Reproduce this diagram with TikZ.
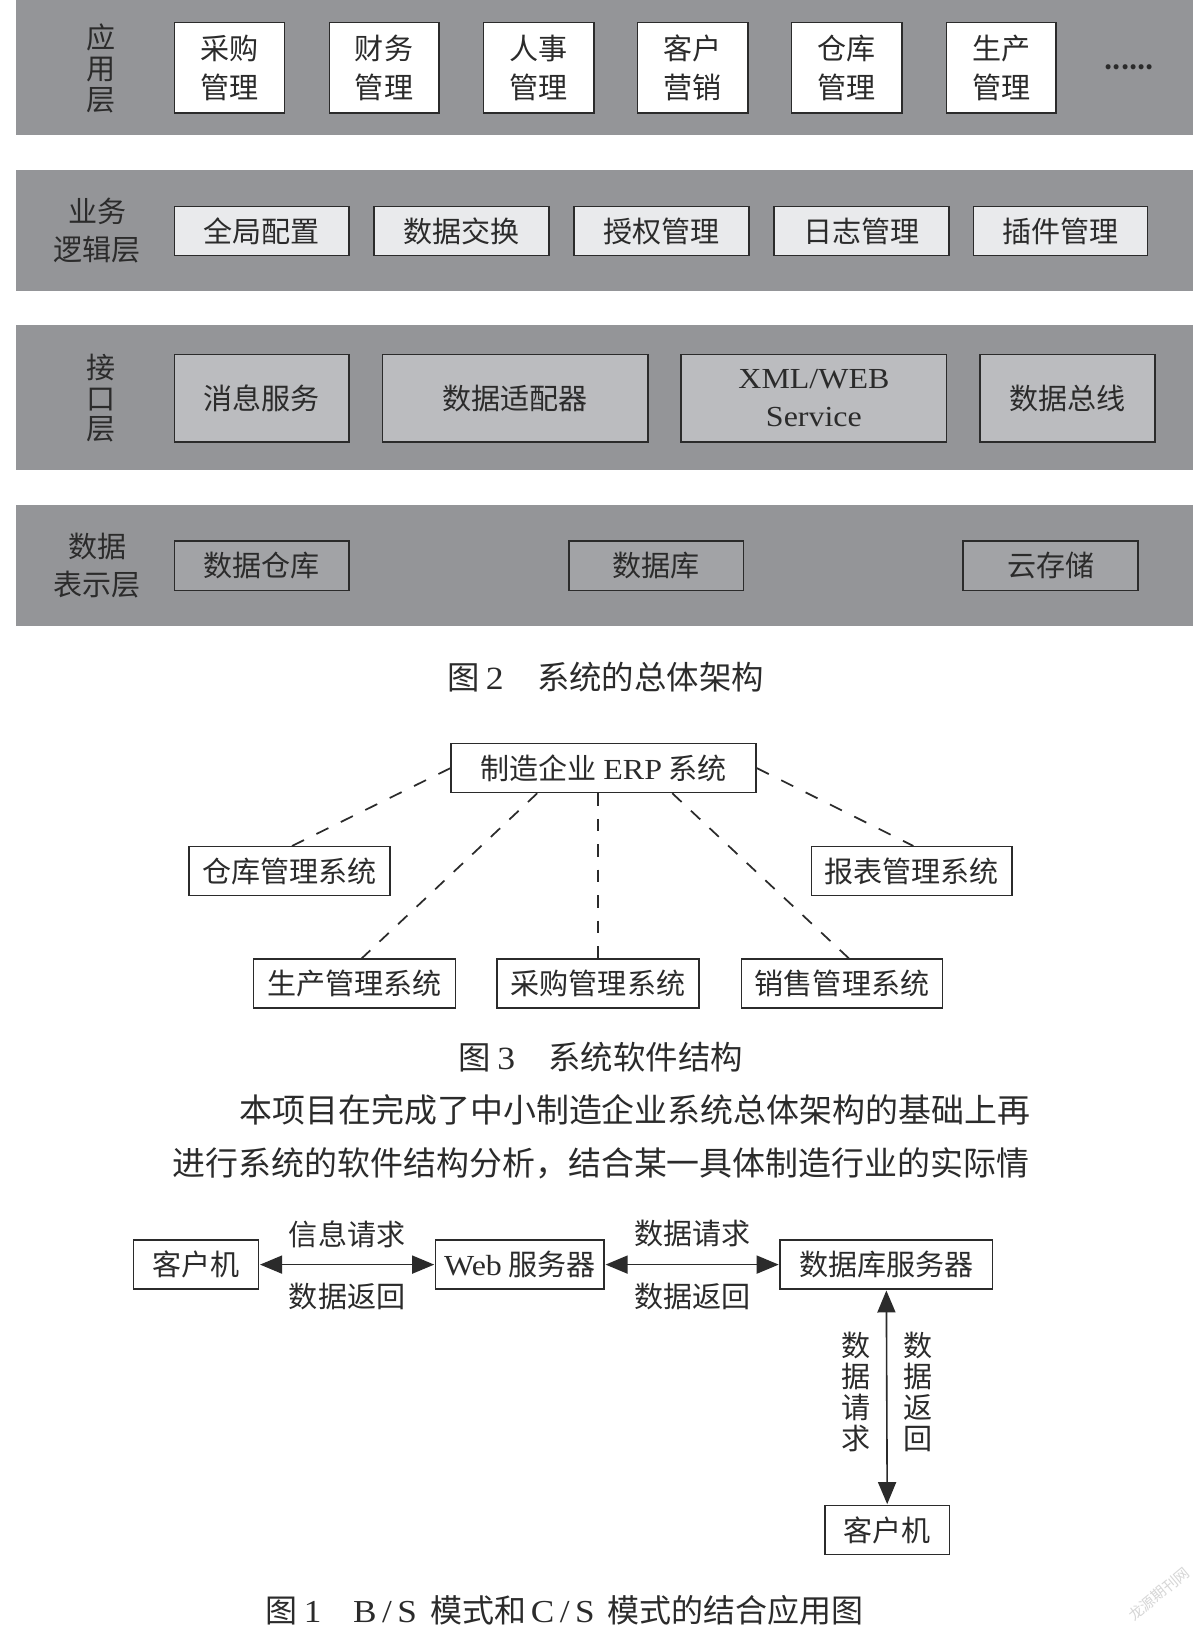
\documentclass[tikz,border=0pt]{standalone}
\usepackage{fontspec}
\setmainfont{Noto Sans CJK SC}
\newfontfamily\lat[FakeStretch=1.1]{Liberation Serif}
\newfontfamily\latw[FakeStretch=1.1,LetterSpace=17]{Liberation Serif}
\usetikzlibrary{arrows.meta,calc}
\definecolor{ink}{HTML}{2B2B2B}
\definecolor{bandgray}{HTML}{949598}
\definecolor{midgray}{HTML}{BBBCBF}
\definecolor{lowgray}{HTML}{A2A3A6}
\definecolor{palegray}{HTML}{E9EAEC}
\tikzset{
  txtst/.style={text=ink,inner sep=0pt,font=\fontsize{21.8}{29}\selectfont,align=center},
  vertst/.style={text=ink,inner sep=0pt,font=\fontsize{21.8}{23.2}\selectfont,align=center},
  capst/.style={text=ink,inner sep=0pt,anchor=west,font=\fontsize{24.3}{28}\selectfont},
  parast/.style={text=ink,inner sep=0pt,font=\fontsize{24.7}{30}\selectfont},
  bandst/.style={fill=bandgray,inner sep=0pt},
  boxw/.style={txtst,draw=ink,line width=1.2pt,fill=white},
  boxl/.style={txtst,draw=ink,line width=1.2pt,fill=palegray},
  boxm/.style={txtst,draw=ink,line width=1.2pt,fill=midgray},
  boxd/.style={txtst,draw=ink,line width=1.2pt,fill=lowgray},
  boxp/.style={txtst,draw=ink,line width=1.1pt,fill=white},
  dashouter/.style={draw=ink,line width=1.3pt,dash pattern=on 10pt off 10.4pt},
  dashinner/.style={draw=ink,line width=1.3pt,dash pattern=on 9.5pt off 9.6pt},
  botharrow/.style={draw=ink,line width=1.2pt,{Triangle[length=16.5pt,width=13.5pt]}-{Triangle[length=16.5pt,width=13.5pt]},shorten <=0.5pt,shorten >=0.5pt}
}
% name, x1, y1, x2, y2, style, text
\newcommand{\mybox}[7]{\node[#6,minimum width={(#4-#2)*0.7806pt},minimum height={(#5-#3)*0.7806pt}] (#1) at ({(#2+#4)/2},{(#3+#5)/2}) {#7};}
\begin{document}
\begin{tikzpicture}[x=0.7806pt,y=-0.7806pt]
\useasboundingbox (-0.5,-0.5) rectangle (1152.5,1567.5);
\fill[white] (-0.5,-0.5) rectangle (1152.5,1567.5);
% bands
\mybox{b1}{15}{-2}{1146}{129}{bandst}{}
\mybox{b2}{15}{163}{1146}{279}{bandst}{}
\mybox{b3}{15}{312}{1146}{451}{bandst}{}
\mybox{b4}{15}{485}{1146}{601}{bandst}{}
% layer labels
\node[vertst] (l1) at (97,65) {应\\用\\层};
\node[txtst] (l2) at (93,221) {业务\\逻辑层};
\node[vertst] (l3) at (97,382) {接\\口\\层};
\node[txtst] (l4) at (93,543) {数据\\表示层};
% application layer
\mybox{a1}{167}{21}{273}{108}{boxw}{采购\\管理}
\mybox{a2}{316}{21}{421}{108}{boxw}{财务\\管理}
\mybox{a3}{464}{21}{570}{108}{boxw}{人事\\管理}
\mybox{a4}{612}{21}{718}{108}{boxw}{客户\\营销}
\mybox{a5}{760}{21}{866}{108}{boxw}{仓库\\管理}
\mybox{a6}{909}{21}{1014}{108}{boxw}{生产\\管理}
\node[txtst,anchor=base,font=\fontsize{17.5}{20}\selectfont] (adots) at (1084.5,66) {\textbf{......}};
% logic layer
\mybox{c1}{167}{198}{335}{245}{boxl}{全局配置}
\mybox{c2}{359}{198}{527}{245}{boxl}{数据交换}
\mybox{c3}{551}{198}{719}{245}{boxl}{授权管理}
\mybox{c4}{743}{198}{911}{245}{boxl}{日志管理}
\mybox{c5}{935}{198}{1102}{245}{boxl}{插件管理}
% interface layer
\mybox{d1}{167}{340}{335}{424}{boxm}{消息服务}
\mybox{d2}{367}{340}{622}{424}{boxm}{数据适配器}
\mybox{d3}{654}{340}{909}{424}{boxm}{\lat XML/WEB\\\lat Service}
\mybox{d4}{941}{340}{1109}{424}{boxm}{数据总线}
% data layer
\mybox{e1}{167}{519}{335}{567}{boxd}{数据仓库}
\mybox{e2}{546}{519}{714}{567}{boxd}{数据库}
\mybox{e3}{925}{519}{1093}{567}{boxd}{云存储}
\node[capst] (cap2) at (429,650) {图\hspace{4.7pt}{\lat 2}\hspace{25pt}系统的总体架构};
% figure 3
\mybox{erp}{433}{714}{726}{761}{boxp}{制造企业 {\lat ERP} 系统}
\mybox{s1}{181}{813}{374}{860}{boxp}{仓库管理系统}
\mybox{s2}{779}{813}{972}{860}{boxp}{报表管理系统}
\mybox{s3}{243}{921}{437}{968}{boxp}{生产管理系统}
\mybox{s4}{477}{921}{671}{968}{boxp}{采购管理系统}
\mybox{s5}{712}{921}{905}{968}{boxp}{销售管理系统}
\draw[dashouter] (erp.west) -- ($(s1.north west)!0.513!(s1.north east)$);
\draw[dashinner] ($(erp.south west)!0.283!(erp.south east)$) -- ($(s3.north west)!0.536!(s3.north east)$);
\draw[dashinner] (s4.north |- erp.south) -- (s4.north);
\draw[dashinner] ($(erp.south west)!0.724!(erp.south east)$) -- ($(s5.north west)!0.534!(s5.north east)$);
\draw[dashouter] (erp.east) -- ($(s2.north west)!0.508!(s2.north east)$);
\node[capst] (cap3) at (440,1015) {图\hspace{4.7pt}{\lat 3}\hspace{25pt}系统软件结构};
% paragraph
\node[parast] (p1) at (609.5,1066) {本项目在完成了中小制造企业系统总体架构的基础上再};
\node[parast] (p2) at (577,1117) {进行系统的软件结构分析，结合某一具体制造行业的实际情};
% figure 1
\mybox{k1}{128}{1191}{248}{1238}{boxp}{客户机}
\mybox{w}{418}{1191}{580}{1238}{boxp}{{\lat Web} 服务器}
\mybox{db}{749}{1191}{953}{1238}{boxp}{数据库服务器}
\mybox{k2}{792}{1446}{912}{1493}{boxp}{客户机}
\draw[botharrow] (k1) -- (w);
\draw[botharrow] (w) -- (db);
\draw[botharrow] (db) -- (k2);
\node[txtst] (t1) at (333,1185) {信息请求};
\node[txtst] (t2) at (333,1245) {数据返回};
\node[txtst] (t3) at (665,1185) {数据请求};
\node[txtst] (t4) at (665,1245) {数据返回};
\node[vertst] (t5) at (822,1337) {数\\据\\请\\求};
\node[vertst] (t6) at (882,1337) {数\\据\\返\\回};
\node[capst,font=\fontsize{24}{28}\selectfont] (cap1) at (254,1547) {图\hspace{5pt}{\lat 1}\hspace{23.8pt}{\latw B/S}\hspace{10pt}模式和\hspace{3.5pt}{\latw C/S}\hspace{9.8pt}模式的结合应用图};
\node[text=black!16,inner sep=0pt,rotate=40,font=\fontsize{11}{13}\selectfont] (wm) at (1113,1531) {龙源期刊网};
\end{tikzpicture}
\end{document}
